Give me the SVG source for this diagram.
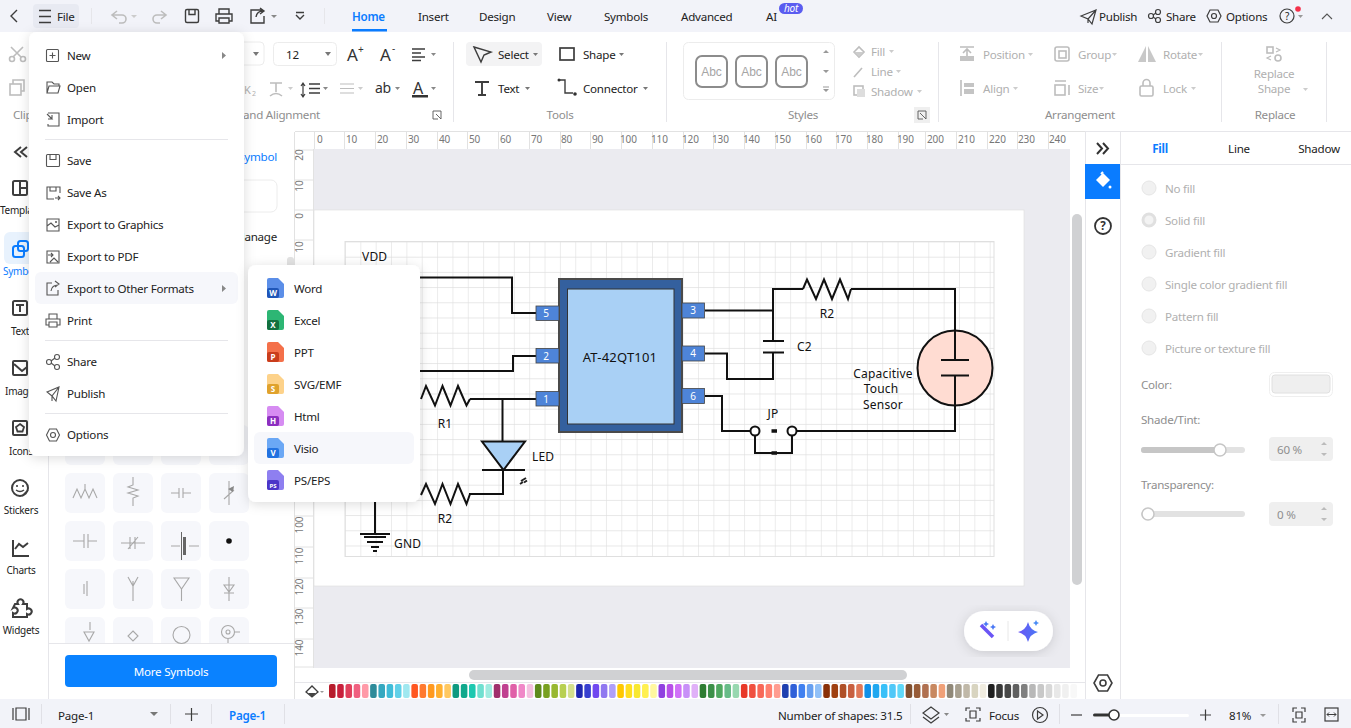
<svg xmlns="http://www.w3.org/2000/svg" width="1351" height="728" viewBox="0 0 1351 728">
<style>
text{font-family:"Noto Sans","Open Sans",sans-serif;font-size:11.6px;letter-spacing:-.25px;fill:#222;white-space:pre}
.d{fill:#b0b0b0}.m{fill:#8e8e8e}.b{fill:#0a7cff}.s{font-size:11px}.r{font-size:10px;fill:#777;letter-spacing:-.1px}.c{text-anchor:middle}
.ci{font-size:12px;fill:#111;letter-spacing:.2px}
.i{fill:none;stroke:#3d3d3d;stroke-width:1.4}.ig{fill:none;stroke:#bdbdbd;stroke-width:1.6}.im{fill:none;stroke:#555;stroke-width:1.1}
.sep{stroke:#e6e6ea;stroke-width:1}.tile{fill:#f6f7fb}.gl{fill:none;stroke:#a8a8a8;stroke-width:1.1}
.w{fill:none;stroke:#111;stroke-width:2}.pin{fill:#4e84d8;stroke:#444;stroke-width:.8}.pt{font-size:10px;fill:#fff;text-anchor:middle;letter-spacing:0}
.tri{fill:#8a8a8a}.abc{fill:#fff;stroke:#8c8c8c;stroke-width:2}.abt{font-family:"Liberation Sans",sans-serif;fill:#a5a5a5;font-size:12px;text-anchor:middle;letter-spacing:0}
.rad{fill:#f1f1f1;stroke:#e6e6e6}.ba{font-size:8px;font-weight:700;fill:#fff;text-anchor:middle;letter-spacing:0}
</style>
<defs>
<pattern id="grid" x="345" y="241.5" width="15.35" height="15.2" patternUnits="userSpaceOnUse"><path d="M0 0H15.35M0 0V15.2" fill="none" stroke="#dfdfdf" stroke-width="1.2"/></pattern>
<filter id="sh" x="-15%" y="-15%" width="130%" height="130%"><feDropShadow dx="0" dy="2" stdDeviation="6" flood-color="#000" flood-opacity=".14"/></filter>
<linearGradient id="pill" x1="0" x2="1"><stop offset="0" stop-color="#6a55f5"/><stop offset="1" stop-color="#4a78f5"/></linearGradient>
<path id="fold" d="M0 2a2 2 0 0 1 2-2H11L17 6V18a2 2 0 0 1-2 2H2a2 2 0 0 1-2-2Z"/>
</defs>

<rect width="1351" height="728" fill="#fff"/>
<rect id="canvas-bg" x="314" y="149" width="756" height="519" fill="#ebebf0"/>
<rect id="page" x="314" y="210" width="710" height="376" fill="#fff" stroke="#dcdcdc" stroke-width=".6"/>
<rect id="grid-area" x="345" y="241.5" width="649" height="315" fill="url(#grid)" stroke="#dfdfdf"/>

<g id="connectors">
<path class="w" d="M420 277.5H512V313H536"/>
<path class="w" d="M420 371H513V356H536"/>
<path class="w" d="M470 399H536"/>
<path class="w" d="M502.500 399V441"/>
<path class="w" d="M503 470V494H469"/>
<path class="w" d="M375 502V534"/>
<path class="w" d="M705 310.500H773"/>
<path class="w" d="M773 341V289H803"/>
<path class="w" d="M851 289H955V331"/>
<path class="w" d="M773 353V379H727V353.500H705"/>
<path class="w" d="M705 396H722V431H750"/>
<path class="w" d="M755 435V453H792V435"/>
<path class="w" d="M796 431H955V406"/>
</g>

<g id="node-chip">
<rect x="559" y="279" width="123" height="153" fill="#34609e" stroke="#4a4a4a" stroke-width="2"/>
<rect x="567.500" y="289" width="106.500" height="135" fill="#a9d0f5" stroke="#333" stroke-width="1"/>
<text class="ci c" x="620" y="362" style="font-size:13px">AT-42QT101</text>
</g>
<g id="node-pin-5"><rect class="pin" x="536" y="306" width="23" height="14.500"/><text class="pt" x="546" y="317">5</text></g>
<g id="node-pin-2"><rect class="pin" x="536" y="348.500" width="23" height="14.500"/><text class="pt" x="546" y="360">2</text></g>
<g id="node-pin-1"><rect class="pin" x="536" y="391.500" width="23" height="14.500"/><text class="pt" x="546" y="403">1</text></g>
<g id="node-pin-3"><rect class="pin" x="682" y="303" width="22.500" height="15"/><text class="pt" x="693" y="314">3</text></g>
<g id="node-pin-4"><rect class="pin" x="682" y="346" width="22.500" height="15"/><text class="pt" x="693" y="357">4</text></g>
<g id="node-pin-6"><rect class="pin" x="682" y="388.500" width="22.500" height="15"/><text class="pt" x="693" y="400">6</text></g>

<g id="node-vdd"><text class="ci" x="362" y="261">VDD</text></g>
<g id="node-r1"><path class="w" d="M421 399L426 386L435 405.500L442.500 386L450.500 405.500L458 386L466.500 405.500L470 399"/><text class="ci c" x="445" y="428">R1</text></g>
<g id="node-r2-left"><path class="w" d="M421 495L426 484L435 504L442.500 484L450.500 504L458 484L466.500 504L470 494"/><text class="ci c" x="445" y="523">R2</text></g>
<g id="node-led">
<path d="M482 441.500H525L503.500 470Z" fill="#a9d0f5" stroke="#111" stroke-width="2"/>
<path class="w" d="M482 470H525"/>
<path d="M521 481l5-3M520 484l3-2M524 482.500l3-2" stroke="#222" stroke-width="2"/>
<text class="ci" x="532" y="461">LED</text>
</g>
<g id="node-gnd">
<path stroke="#111" stroke-width="2" d="M360 534H390M364 537H386M367 542H383M371 547H379M373 551H377"/>
<text class="ci" x="394" y="548">GND</text>
</g>
<g id="node-r2-right"><path class="w" d="M803 289L807 279.500L816 299L824 279.500L832 299L840 279.500L848 299L851 289"/><text class="ci c" x="827" y="318">R2</text></g>
<g id="node-c2"><path class="w" d="M763 341H784M763 352.500H784"/><text class="ci" x="797" y="351">C2</text></g>
<g id="node-jp">
<circle cx="755" cy="431" r="4.500" fill="#fff" stroke="#111" stroke-width="2"/>
<circle cx="792" cy="431" r="4.500" fill="#fff" stroke="#111" stroke-width="2"/>
<path stroke="#111" stroke-width="3.500" d="M771.500 431H777M771.500 453H777"/>
<text class="ci c" x="773" y="418">JP</text>
</g>
<g id="node-sensor">
<circle cx="955" cy="368" r="37.500" fill="#ffdcd2" stroke="#111" stroke-width="2"/>
<path class="w" d="M955 331V360M941 360H969M941 375.500H969M955 375.500V406"/>
<text class="ci c" x="883" y="378">Capacitive</text>
<text class="ci c" x="881" y="393">Touch</text>
<text class="ci c" x="883" y="409">Sensor</text>
</g>

<g id="float-pill">
<rect x="964" y="611" width="89" height="40" rx="20" fill="#fff" filter="url(#sh)"/>
<path d="M1008 621V641" stroke="#e8e8e8"/>
<path d="M981 625L993 637" stroke="#6a55f5" stroke-width="3.500" fill="none"/><path d="M986 621l1 2 2 1-2 1-1 2-1-2-2-1 2-1ZM993 624l1 2 2 1-2 1-1 2-1-2-2-1 2-1Z" fill="#4a78f5"/>
<path d="M1028 622Q1030 630 1038 632Q1030 634 1028 642Q1026 634 1018 632Q1026 630 1028 622Z" fill="url(#pill)"/><path d="M1036 620l1 2 2 1-2 1-1 2-1-2-2-1 2-1Z" fill="#4a8cf5"/>
</g>

<g id="scrollbars">
<rect x="1072" y="214" width="10" height="371" rx="5" fill="#d0d1d3"/>
<rect x="469" y="670" width="438" height="10" rx="5" fill="#d0d1d3"/>
</g>
<path class="sep" d="M295 682.500H1085"/>

<g id="palette">
<path class="i" d="M306 692l6-6 6 6-6 5z" style="stroke-width:1.300"/><path d="M308 693h8l-4 4z" fill="#444"/><path d="M320 691h4l-2 2z" fill="#999"/>
<g transform="translate(329,0) scale(1.0108,1) translate(-329,0)">
<rect x="329" y="684" width="6.500" height="14" rx="2" fill="#b71c2c"/><rect x="337.100" y="684" width="6.500" height="14" rx="2" fill="#c8203c"/><rect x="345.300" y="684" width="6.500" height="14" rx="2" fill="#e0405c"/><rect x="353.400" y="684" width="6.500" height="14" rx="2" fill="#f06080"/><rect x="361.600" y="684" width="6.500" height="14" rx="2" fill="#ff9aa8"/>
<rect x="369.700" y="684" width="6.500" height="14" rx="2" fill="#2e8b9a"/><rect x="377.900" y="684" width="6.500" height="14" rx="2" fill="#35a8c0"/><rect x="386" y="684" width="6.500" height="14" rx="2" fill="#40bcd8"/><rect x="394.200" y="684" width="6.500" height="14" rx="2" fill="#60d0e8"/><rect x="402.300" y="684" width="6.500" height="14" rx="2" fill="#a0e8f0"/>
<rect x="410.500" y="684" width="6.500" height="14" rx="2" fill="#ff5722"/><rect x="418.600" y="684" width="6.500" height="14" rx="2" fill="#ff7a30"/><rect x="426.800" y="684" width="6.500" height="14" rx="2" fill="#ff9a20"/><rect x="434.900" y="684" width="6.500" height="14" rx="2" fill="#ffb030"/><rect x="443.100" y="684" width="6.500" height="14" rx="2" fill="#ffc860"/>
<rect x="451.200" y="684" width="6.500" height="14" rx="2" fill="#0f9a80"/><rect x="459.400" y="684" width="6.500" height="14" rx="2" fill="#10a88c"/><rect x="467.500" y="684" width="6.500" height="14" rx="2" fill="#1dc8b0"/><rect x="475.700" y="684" width="6.500" height="14" rx="2" fill="#70e0d0"/><rect x="483.800" y="684" width="6.500" height="14" rx="2" fill="#a0ece0"/>
<rect x="492" y="684" width="6.500" height="14" rx="2" fill="#a0306c"/><rect x="500.100" y="684" width="6.500" height="14" rx="2" fill="#c04090"/><rect x="508.300" y="684" width="6.500" height="14" rx="2" fill="#e060a8"/><rect x="516.400" y="684" width="6.500" height="14" rx="2" fill="#f088c8"/><rect x="524.600" y="684" width="6.500" height="14" rx="2" fill="#f4c0e0"/>
<rect x="532.700" y="684" width="6.500" height="14" rx="2" fill="#5e8a1c"/><rect x="540.900" y="684" width="6.500" height="14" rx="2" fill="#78a020"/><rect x="549" y="684" width="6.500" height="14" rx="2" fill="#98b830"/><rect x="557.200" y="684" width="6.500" height="14" rx="2" fill="#b8d050"/><rect x="565.300" y="684" width="6.500" height="14" rx="2" fill="#d4e08c"/>
<rect x="573.500" y="684" width="6.500" height="14" rx="2" fill="#2028b0"/><rect x="581.600" y="684" width="6.500" height="14" rx="2" fill="#3840d0"/><rect x="589.800" y="684" width="6.500" height="14" rx="2" fill="#7048f0"/><rect x="597.900" y="684" width="6.500" height="14" rx="2" fill="#9078f0"/><rect x="606.100" y="684" width="6.500" height="14" rx="2" fill="#b0a0f8"/>
<rect x="614.200" y="684" width="6.500" height="14" rx="2" fill="#ffc800"/><rect x="622.400" y="684" width="6.500" height="14" rx="2" fill="#ffdf20"/><rect x="630.500" y="684" width="6.500" height="14" rx="2" fill="#f8e830"/><rect x="638.700" y="684" width="6.500" height="14" rx="2" fill="#fff050"/><rect x="646.800" y="684" width="6.500" height="14" rx="2" fill="#fff8a0"/>
<rect x="655" y="684" width="6.500" height="14" rx="2" fill="#9040e0"/><rect x="663.100" y="684" width="6.500" height="14" rx="2" fill="#b850e8"/><rect x="671.300" y="684" width="6.500" height="14" rx="2" fill="#d070f8"/><rect x="679.400" y="684" width="6.500" height="14" rx="2" fill="#c890f8"/><rect x="687.600" y="684" width="6.500" height="14" rx="2" fill="#e0b0f8"/>
<rect x="695.700" y="684" width="6.500" height="14" rx="2" fill="#2e7d32"/><rect x="703.900" y="684" width="6.500" height="14" rx="2" fill="#3c9048"/><rect x="712" y="684" width="6.500" height="14" rx="2" fill="#50a860"/><rect x="720.200" y="684" width="6.500" height="14" rx="2" fill="#68bc88"/><rect x="728.300" y="684" width="6.500" height="14" rx="2" fill="#98d8b0"/>
<rect x="736.500" y="684" width="6.500" height="14" rx="2" fill="#e83828"/><rect x="744.600" y="684" width="6.500" height="14" rx="2" fill="#f05040"/><rect x="752.800" y="684" width="6.500" height="14" rx="2" fill="#f86858"/><rect x="760.900" y="684" width="6.500" height="14" rx="2" fill="#ff8070"/><rect x="769.100" y="684" width="6.500" height="14" rx="2" fill="#ff9c90"/>
<rect x="777.200" y="684" width="6.500" height="14" rx="2" fill="#2040b0"/><rect x="785.400" y="684" width="6.500" height="14" rx="2" fill="#3060d8"/><rect x="793.500" y="684" width="6.500" height="14" rx="2" fill="#4080f0"/><rect x="801.700" y="684" width="6.500" height="14" rx="2" fill="#68a0f0"/><rect x="809.800" y="684" width="6.500" height="14" rx="2" fill="#90c0f8"/>
<rect x="818" y="684" width="6.500" height="14" rx="2" fill="#8a3008"/><rect x="826.100" y="684" width="6.500" height="14" rx="2" fill="#a04010"/><rect x="834.300" y="684" width="6.500" height="14" rx="2" fill="#b05028"/><rect x="842.400" y="684" width="6.500" height="14" rx="2" fill="#c86040"/><rect x="850.600" y="684" width="6.500" height="14" rx="2" fill="#e07858"/>
<rect x="858.700" y="684" width="6.500" height="14" rx="2" fill="#1090e8"/><rect x="866.900" y="684" width="6.500" height="14" rx="2" fill="#20a8f0"/><rect x="875" y="684" width="6.500" height="14" rx="2" fill="#38c0f8"/><rect x="883.200" y="684" width="6.500" height="14" rx="2" fill="#50c8f8"/><rect x="891.300" y="684" width="6.500" height="14" rx="2" fill="#60d8f8"/>
<rect x="899.500" y="684" width="6.500" height="14" rx="2" fill="#805030"/><rect x="907.600" y="684" width="6.500" height="14" rx="2" fill="#985c38"/><rect x="915.800" y="684" width="6.500" height="14" rx="2" fill="#b07050"/><rect x="923.900" y="684" width="6.500" height="14" rx="2" fill="#c88860"/><rect x="932.100" y="684" width="6.500" height="14" rx="2" fill="#f0a078"/>
<rect x="940.200" y="684" width="6.500" height="14" rx="2" fill="#908878"/><rect x="948.400" y="684" width="6.500" height="14" rx="2" fill="#a8a090"/><rect x="956.500" y="684" width="6.500" height="14" rx="2" fill="#c0b8a8"/><rect x="964.700" y="684" width="6.500" height="14" rx="2" fill="#d8d4c0"/><rect x="972.800" y="684" width="6.500" height="14" rx="2" fill="#f0ece0"/>
<rect x="981" y="684" width="6.500" height="14" rx="2" fill="#202020"/><rect x="989.100" y="684" width="6.500" height="14" rx="2" fill="#383838"/><rect x="997.300" y="684" width="6.500" height="14" rx="2" fill="#484848"/><rect x="1005.400" y="684" width="6.500" height="14" rx="2" fill="#606060"/><rect x="1013.600" y="684" width="6.500" height="14" rx="2" fill="#808080"/><rect x="1021.700" y="684" width="6.500" height="14" rx="2" fill="#b8b8b8"/><rect x="1029.900" y="684" width="6.500" height="14" rx="2" fill="#c8c8c8"/><rect x="1038" y="684" width="6.500" height="14" rx="2" fill="#d8d8d8"/><rect x="1046.200" y="684" width="6.500" height="14" rx="2" fill="#e8e8e8"/><rect x="1054.300" y="684" width="6.500" height="14" rx="2" fill="#f0f0f0"/><rect x="1062.500" y="684" width="6.500" height="14" rx="2" fill="#f8f8f8"/>
</g>
</g>

<g id="ruler-top">
<rect x="295" y="132" width="775" height="17" fill="#fff"/>
<path stroke="#e2e2e2" d="M295 131.500H1085M314.500 132V149M344.500 132V149M375.500 132V149M406.500 132V149M437.500 132V149M467.500 132V149M498.500 132V149M529.500 132V149M560.500 132V149M590.500 132V149M621.500 132V149M652.500 132V149M683.500 132V149M713.500 132V149M744.500 132V149M775.500 132V149M806.500 132V149M836.500 132V149M867.500 132V149M898.500 132V149M925.500 132V149M956.500 132V149M987.500 132V149M1017.500 132V149M1048.500 132V149"/>
<text class="r" x="317" y="143">0</text><text class="r" x="346" y="143">10</text><text class="r" x="377" y="143">20</text><text class="r" x="408" y="143">30</text><text class="r" x="439" y="143">40</text><text class="r" x="469" y="143">50</text><text class="r" x="500" y="143">60</text><text class="r" x="531" y="143">70</text><text class="r" x="561" y="143">80</text><text class="r" x="592" y="143">90</text><text class="r" x="620" y="143">100</text><text class="r" x="651" y="143">110</text><text class="r" x="682" y="143">120</text><text class="r" x="712" y="143">130</text><text class="r" x="743" y="143">140</text><text class="r" x="774" y="143">150</text><text class="r" x="805" y="143">160</text><text class="r" x="835" y="143">170</text><text class="r" x="866" y="143">180</text><text class="r" x="897" y="143">190</text><text class="r" x="927" y="143">200</text><text class="r" x="958" y="143">210</text><text class="r" x="989" y="143">220</text><text class="r" x="1018" y="143">230</text><text class="r" x="1049" y="143">240</text>
</g>
<g id="ruler-left">
<rect x="295" y="149" width="19" height="519" fill="#fff"/>
<path stroke="#e2e2e2" d="M294.500 132V699M313.500 149V668M295 150H313M295 180H313M295 210H313M295 240H313M295 516H313M295 547H313M295 578H313M295 608H313M295 639H313M295 667H313"/>
<text class="r c" transform="translate(303,155) rotate(-90)">20</text><text class="r c" transform="translate(303,186) rotate(-90)">10</text><text class="r c" transform="translate(303,216) rotate(-90)">0</text><text class="r c" transform="translate(303,247) rotate(-90)">10</text><text class="r c" transform="translate(303,525) rotate(-90)">100</text><text class="r c" transform="translate(303,556) rotate(-90)">110</text><text class="r c" transform="translate(303,587) rotate(-90)">120</text><text class="r c" transform="translate(303,617) rotate(-90)">130</text><text class="r c" transform="translate(303,648) rotate(-90)">140</text>
</g>

<g id="left-panel">
<path class="sep" d="M48.500 132V699M49 643.500H294"/>
<text x="277" y="161" class="b" text-anchor="end">Symbol</text>
<rect x="200" y="180" width="77" height="32" rx="6" fill="#fff" stroke="#ececec"/>
<text x="277" y="241" text-anchor="end" fill="#333">Manage</text>
<rect x="287" y="257" width="7" height="40" rx="3" fill="#e2e2e2"/>
<rect class="tile" x="65" y="425" width="40" height="40" rx="6"/><rect class="tile" x="113" y="425" width="40" height="40" rx="6"/><rect class="tile" x="161" y="425" width="40" height="40" rx="6"/><rect class="tile" x="209" y="425" width="40" height="40" rx="6"/>
<rect class="tile" x="65" y="473" width="40" height="40" rx="6"/><rect class="tile" x="113" y="473" width="40" height="40" rx="6"/><rect class="tile" x="161" y="473" width="40" height="40" rx="6"/><rect class="tile" x="209" y="473" width="40" height="40" rx="6"/>
<rect class="tile" x="65" y="521" width="40" height="40" rx="6"/><rect class="tile" x="113" y="521" width="40" height="40" rx="6"/><rect class="tile" x="161" y="521" width="40" height="40" rx="6"/><rect class="tile" x="209" y="521" width="40" height="40" rx="6"/>
<rect class="tile" x="65" y="569" width="40" height="40" rx="6"/><rect class="tile" x="113" y="569" width="40" height="40" rx="6"/><rect class="tile" x="161" y="569" width="40" height="40" rx="6"/><rect class="tile" x="209" y="569" width="40" height="40" rx="6"/>
<path class="tile" d="M65 643V623a6 6 0 0 1 6-6H99a6 6 0 0 1 6 6V643ZM113 643V623a6 6 0 0 1 6-6H147a6 6 0 0 1 6 6V643ZM161 643V623a6 6 0 0 1 6-6H195a6 6 0 0 1 6 6V643ZM209 643V623a6 6 0 0 1 6-6H243a6 6 0 0 1 6 6V643Z"/>
<path class="gl" d="M73 498l4-9 4 9 4-9 4 9 4-9 4 9M85 484v6"/>
<path class="gl" d="M133 481v8l-5 2 10 3-10 3 10 3-5 2v8" transform="translate(0,-4)"/>
<path class="gl" d="M171 493h8M179 488v10M183 488v10M183 493h8"/>
<path class="gl" d="M229 481v24M224 499l10-9"/><path d="M228 489l6-3-1 6z" fill="#888"/>
<path class="gl" d="M73 541h11M84 534v14M88 534v14M88 541h9"/>
<path class="gl" d="M121 543h24M130 537v12M135 537v12M128 549l10-12"/>
<path class="gl" d="M171 546h9M189 546h10"/><path d="M181 532h1v28h-1zM183 537h3v18h-3z" fill="#666"/>
<circle cx="229" cy="541" r="2.800" fill="#111"/>
<path class="gl" d="M84 584v10M87 581v15"/>
<path class="gl" d="M133 581v20M128 577l5 9 5-9"/>
<path class="gl" d="M174 578h15l-7.500 11zM181.500 589v12"/>
<path class="gl" d="M229 577v24M224 585h10l-5 7zM224 593h10"/>
<path class="gl" d="M90 622v8M84 632h10l-5 9z"/>
<path class="gl" d="M133 631l5 5-5 5-5-5z"/>
<circle class="gl" cx="181.500" cy="635" r="8.500"/>
<circle class="gl" cx="228" cy="632" r="6.500"/><circle class="gl" cx="228" cy="632" r="2"/><path class="gl" d="M235 632h5M228 639v4"/>
<rect x="65" y="655" width="212" height="32" rx="4" fill="#0a82ff"/>
<text x="171" y="676" class="c" style="fill:#fff">More Symbols</text>
</g>

<g id="left-nav">
<path class="i" d="M21 147l-6 5 6 5M27 147l-6 5 6 5" style="stroke-width:2"/>
<rect class="i" x="13" y="181" width="14" height="14" rx="1.500" style="stroke-width:2"/><path class="i" d="M20 181v14M20 188h7" style="stroke-width:2"/>
<text x="0" y="214" style="font-size:10px">Templates</text>
<rect x="4" y="232" width="32" height="32" rx="6" fill="#e8f2fd"/>
<rect x="13" y="246" width="11" height="11" rx="2.500" fill="none" stroke="#0a7cff" stroke-width="2"/><rect x="18" y="241" width="10" height="10" rx="2.500" fill="none" stroke="#0a7cff" stroke-width="2"/>
<text x="3" y="275" class="b" style="font-size:10px">Symbols</text>
<rect class="i" x="13" y="301" width="14" height="14" rx="1.500" style="stroke-width:2"/><path class="i" d="M16 305h8M20 305v7" style="stroke-width:2"/>
<text x="20" y="335" class="c" style="font-size:10px">Text</text>
<rect class="i" x="13" y="361" width="14" height="14" rx="1" style="stroke-width:2"/><path class="i" d="M14 364l8 7 5-4" style="stroke-width:2"/>
<text x="5" y="395" style="font-size:10px">Images</text>
<rect class="i" x="13" y="421" width="14" height="14" rx="1" style="stroke-width:2"/><path class="i" d="M20 424l4 3-1.500 4.500h-5L16 427z" style="stroke-width:1.800"/>
<text x="9" y="455" style="font-size:10px">Icons</text>
<circle class="i" cx="20" cy="488" r="8" style="stroke-width:2"/><path class="i" d="M22 496l6-6M16 490q4 3 8 0"/><circle cx="17" cy="486" r="1" fill="#333"/><circle cx="23" cy="486" r="1" fill="#333"/>
<text x="21" y="514" class="c" style="font-size:10px">Stickers</text>
<path class="i" d="M13 540v16h16" style="stroke-width:2"/><path class="i" d="M15 549l4-5 4 3 5-4" style="stroke-width:2"/>
<text x="21" y="574" class="c" style="font-size:10px">Charts</text>
<path class="i" d="M15 604h3a3 3 0 1 1 5 0h4v5a3 3 0 1 1 0 5v3H13v-4a3 3 0 1 0 0-5z" style="stroke-width:2"/>
<text x="21" y="634" class="c" style="font-size:10px">Widgets</text>
</g>

<g id="top-bar">
<rect width="1351" height="32" fill="#f2f3f9"/>
<path class="i" d="M17 10l-6 6 6 6"/>
<rect x="33" y="4" width="46" height="24" rx="4" fill="#e8eaf2"/>
<path class="i" d="M39 10.500H51M39 16.500H51M39 22.500H51"/>
<text x="57" y="21">File</text>
<path class="sep" d="M91.500 8V24M324.500 8V24" stroke="#d8d8dc"/>
<path class="ig" d="M117 11l-5 4 5 4M112 15h10a4 4 0 0 1 0 8h-3"/><path d="M131 15l3 3 3-3z" fill="#ccc"/>
<path class="ig" d="M161 11l5 4-5 4M166 15h-9a4 4 0 0 0 0 8h3"/>
<rect class="i" x="185.500" y="9.500" width="13" height="13" rx="1.500"/><path class="i" d="M189 9.500v5h6v-5"/>
<path class="i" d="M219 14v-5h10v5M219 21h-3v-7h16v7h-3M219 18h10v5h-10z"/>
<path class="i" d="M263 10h-12v13h13v-7M256 17q1-6 7-6M260 8l4 3-4 3"/><path d="M271 15l3 3 3-3z" fill="#888"/>
<path class="i" d="M296 12.500h8M296 15l4 4 4-4"/>
<text x="352" y="21" class="b" style="font-weight:600">Home</text>
<rect x="352" y="29" width="35" height="2.500" fill="#0a7cff"/>
<text x="418" y="21">Insert</text><text x="479" y="21">Design</text><text x="547" y="21">View</text><text x="604" y="21">Symbols</text><text x="681" y="21">Advanced</text><text x="766" y="21">AI</text>
<rect x="779" y="3" width="24" height="11" rx="5.500" fill="#5a5cf0"/>
<text x="791" y="12" class="c" style="fill:#fff;font-size:10px;font-style:italic">hot</text>
<path class="i" d="M1081 16l15-6-4 14-4-5zM1096 10l-8 9v4" style="stroke-width:1.200"/>
<text x="1099" y="21">Publish</text>
<circle class="i" cx="1151" cy="16" r="2.500" style="stroke-width:1.200"/><circle class="i" cx="1158" cy="12" r="2.500" style="stroke-width:1.200"/><circle class="i" cx="1158" cy="20" r="2.500" style="stroke-width:1.200"/><path class="i" d="M1153 15l3-2M1153 17l3 2" style="stroke-width:1.200"/>
<text x="1166" y="21">Share</text>
<circle class="i" cx="1214" cy="16" r="2.500" style="stroke-width:1.200"/><path class="i" d="M1210 10h8l3 6-3 6h-8l-3-6z" style="stroke-width:1.200"/>
<text x="1226" y="21">Options</text>
<circle class="i" cx="1287" cy="16" r="7" style="stroke-width:1.200"/><text x="1287" y="20" class="c" style="font-size:10px">?</text>
<circle cx="1298" cy="9" r="2.800" fill="#f4304a"/><path d="M1298 15l2.500 3 2.500-3z" fill="#999"/>
<path class="im" d="M1322 19l5-5 5 5"/>
</g>

<g id="ribbon">
<path class="sep" d="M453.500 42V122M666.500 42V122M938.500 42V122M1221.500 42V122M1326.500 42V122"/>
<path class="ig" d="M11 47l10 10M23 47l-10 10"/><circle class="ig" cx="12" cy="59" r="2.500"/><circle class="ig" cx="23" cy="59" r="2.500"/>
<rect class="ig" x="10" y="84" width="11" height="11"/><path class="ig" d="M13 84v-4h11v11h-3"/>
<text x="13" y="119" class="m">Clipboard</text>
<rect x="200" y="42" width="64" height="23" rx="4" fill="#fff" stroke="#ececec"/><path d="M253 52l3 4 3-4z" fill="#777"/>
<rect x="273.500" y="42.500" width="63" height="23" rx="4" fill="#fff" stroke="#ececec"/><text x="286" y="59">12</text><path d="M325 52l3 4 3-4z" fill="#777"/>
<text x="347" y="61" style="font-size:17px;fill:#333">A</text><text x="358" y="53" style="font-size:10px;fill:#333">+</text>
<text x="380" y="61" style="font-size:17px;fill:#333">A</text><text x="392" y="52" style="font-size:10px;fill:#333">-</text>
<path class="i" d="M412 49h13M412 53h9M412 57h13M412 60.500h9"/><path d="M431 53l2.500 3 2.500-3z" fill="#888"/>
<text x="244" y="94" class="d" style="font-size:11px">K</text><text x="252" y="96" class="d" style="font-size:7px">2</text>
<path class="ig" d="M270 83h12M276 83v9M270 96q6-5 12 0"/><path d="M288 87l2.500 3 2.500-3z" fill="#ccc"/>
<path class="i" d="M303 84v12M301 86l2-3 2 3M301 94l2 3 2-3" style="stroke-width:1.200"/><path class="i" d="M309 84h11M309 88.500h11M309 93h11" style="stroke-width:1.500"/><path d="M323 87l2.500 3 2.500-3z" fill="#888"/>
<path class="ig" d="M340 84h14M340 88.500h14M340 93h14" style="stroke-width:1.200"/><path d="M358 87l2.500 3 2.500-3z" fill="#ccc"/>
<text x="375" y="93" style="font-size:14px;fill:#333">ab</text><path d="M395 87l2.500 3 2.500-3z" fill="#888"/>
<text x="413" y="94" style="font-size:16px;fill:#333">A</text><rect x="412" y="95" width="16" height="2.500" fill="#333"/><path d="M431 87l2.500 3 2.500-3z" fill="#888"/>
<text x="243" y="119" class="m">and Alignment</text>
<path class="im" d="M433 111h8v8M433 111v8h5M436 114l5 5" style="stroke-width:.9"/>

<rect x="466" y="42" width="76" height="24" rx="4" fill="#f3f3f4"/>
<path class="i" d="M474 47l17 5-7 3-3 7z"/>
<text x="498" y="59">Select</text><path d="M533 53l2.500 3 2.500-3z" fill="#777"/>
<rect class="i" x="560" y="48" width="14" height="12" style="stroke-width:1.700"/>
<text x="583" y="59">Shape</text><path d="M619 53l2.500 3 2.500-3z" fill="#777"/>
<path class="i" d="M475 82h14M482 82v13M478 95h8" style="stroke-width:1.900"/>
<text x="498" y="93">Text</text><path d="M525 87l2.500 3 2.500-3z" fill="#777"/>
<path class="i" d="M560 80h5v13h8"/><circle cx="559" cy="80" r="1.500" fill="#333"/><circle cx="575" cy="94" r="1.800" fill="#333"/>
<text x="583" y="93">Connector</text><path d="M643 87l2.500 3 2.500-3z" fill="#777"/>
<text x="560" y="119" class="m c">Tools</text>

<rect x="683.500" y="42.500" width="151" height="57" rx="5" fill="#fff" stroke="#ececec"/>
<rect class="abc" x="696" y="56" width="31" height="31" rx="6"/><text class="abt" x="711.500" y="76">Abc</text>
<rect class="abc" x="736" y="56" width="31" height="31" rx="6"/><text class="abt" x="751.500" y="76">Abc</text>
<rect class="abc" x="776" y="56" width="31" height="31" rx="6"/><text class="abt" x="791.500" y="76">Abc</text>
<path d="M823 53l3-3 3 3zM823 70l3 3 3-3zM823 89l3 3 3-3zM823 86.500h6v1h-6z" fill="#999"/>
<text x="803" y="119" class="m c">Styles</text>
<path class="ig" d="M854 52l5-5 5 5-5 5z"/><path d="M854 52l5 5 5-5z" fill="#ccc"/>
<text x="871" y="56" class="d">Fill</text><path d="M889 50l2.500 3 2.500-3z" fill="#ccc"/>
<path class="ig" d="M854 77l8-9"/><text x="871" y="76" class="d">Line</text><path d="M896 70l2.500 3 2.500-3z" fill="#ccc"/>
<rect class="ig" x="854" y="86" width="9" height="9"/><rect x="857" y="89" width="8" height="8" fill="#ddd"/><text x="871" y="96" class="d">Shadow</text><path d="M917 90l2.500 3 2.500-3z" fill="#ccc"/>
<rect x="914" y="107" width="16" height="16" fill="#efefef"/><path class="im" d="M918 111h8v8M918 111v8h5M920 113l6 6" style="stroke-width:.9"/>

<path class="ig" d="M960 47h14M967 60v-10M963 53l4-4 4 4"/><rect x="960" y="56" width="14" height="5" fill="#c4c4c4"/>
<text x="983" y="59" class="d">Position</text><path d="M1028 53l2.500 3 2.500-3z" fill="#ccc"/>
<path class="ig" d="M961 80v16"/><rect x="964" y="83" width="10" height="4" fill="#c4c4c4"/><rect x="964" y="89" width="10" height="5" fill="#c4c4c4"/>
<text x="983" y="93" class="d">Align</text><path d="M1013 87l2.500 3 2.500-3z" fill="#ccc"/>
<rect class="ig" x="1055" y="47" width="14" height="14" rx="2"/><rect class="ig" x="1059" y="51" width="7" height="7"/>
<text x="1078" y="59" class="d">Group</text><path d="M1112 53l2.500 3 2.500-3z" fill="#ccc"/>
<rect class="ig" x="1055" y="85" width="10" height="10"/><path class="ig" d="M1055 81h11M1069 85v10"/>
<text x="1078" y="93" class="d">Size</text><path d="M1099 87l2.500 3 2.500-3z" fill="#ccc"/>
<path d="M1146 46v16h-8zM1148 46v16h8z" fill="#c8c8c8"/>
<text x="1163" y="59" class="d">Rotate</text><path d="M1198 53l2.500 3 2.500-3z" fill="#ccc"/>
<rect class="ig" x="1140" y="86" width="13" height="10" rx="1.500"/><path class="ig" d="M1143 86v-3a3.500 3.500 0 0 1 7 0v3"/>
<text x="1163" y="93" class="d">Lock</text><path d="M1191 87l2.500 3 2.500-3z" fill="#ccc"/>
<text x="1080" y="119" class="m c">Arrangement</text>
<rect class="ig" x="1267" y="47" width="6" height="6"/><circle class="ig" cx="1278" cy="58" r="3"/><path class="ig" d="M1276 48l4 2-4 2M1271 56l-4 2 4 2" style="stroke-width:1.200"/>
<text x="1274" y="78" class="d c">Replace</text><text x="1274" y="93" class="d c">Shape</text><path d="M1303 88l2.500 3 2.500-3z" fill="#ccc"/>
<text x="1275" y="119" class="m c">Replace</text>
</g>

<g id="right-panel">
<path class="sep" d="M1085.500 132V699M1120.500 132V699M1085 131.500H1351M1120 164.500H1351"/>
<path d="M1097 143l5 5.500-5 5.500M1103 143l5 5.500-5 5.500" fill="none" stroke="#333" stroke-width="2"/>
<text x="1160" y="153" class="b c" style="font-weight:700">Fill</text><text x="1239" y="153" class="c">Line</text><text x="1319" y="153" class="c">Shadow</text>
<rect x="1085" y="164" width="35" height="35" fill="#0a7cff"/>
<path d="M1096 180l7-7 7 7-7 7z" fill="#fff"/><path d="M1103 172l-2 2" stroke="#fff" stroke-width="2"/><circle cx="1110" cy="187" r="1.500" fill="#fff"/>
<circle cx="1103" cy="226" r="8" fill="none" stroke="#333" stroke-width="1.800"/><text x="1103" y="230" class="c" style="font-weight:700;fill:#333">?</text>
<path class="i" d="M1098.500 675h9l4.500 8-4.500 8h-9l-4.500-8z" style="stroke-width:1.600"/><circle class="i" cx="1103" cy="683" r="3" style="stroke-width:1.600"/>
<circle class="rad" cx="1149" cy="188" r="7"/><text class="d" x="1165" y="193">No fill</text>
<circle cx="1149" cy="220" r="6" fill="#f3f3f3" stroke="#e0e0e0" stroke-width="3"/><text class="d" x="1165" y="225">Solid fill</text>
<circle class="rad" cx="1149" cy="252" r="7"/><text class="d" x="1165" y="257">Gradient fill</text>
<circle class="rad" cx="1149" cy="284" r="7"/><text class="d" x="1165" y="289">Single color gradient fill</text>
<circle class="rad" cx="1149" cy="316" r="7"/><text class="d" x="1165" y="321">Pattern fill</text>
<circle class="rad" cx="1149" cy="348" r="7"/><text class="d" x="1165" y="353">Picture or texture fill</text>
<text class="m" x="1141" y="389">Color:</text>
<rect x="1269.500" y="372.500" width="63" height="24" rx="5" fill="#fff" stroke="#efefef"/><rect x="1272" y="375" width="58" height="18" rx="3" fill="#efefef" stroke="#e0e0e0"/>
<text class="m" x="1141" y="424">Shade/Tint:</text>
<rect x="1141" y="447" width="104" height="6" rx="3" fill="#e2e2e2"/><rect x="1141" y="447" width="79" height="6" rx="3" fill="#c6c6c6"/><circle cx="1220" cy="450" r="6" fill="#fff" stroke="#c6c6c6" stroke-width="1.500"/>
<rect x="1269" y="437" width="64" height="24" rx="4" fill="#efefef"/><text class="m" x="1277" y="454">60 %</text><path d="M1321 445l3-3 3 3zM1321 453l3 3 3-3z" fill="#bbb"/>
<text class="m" x="1141" y="489">Transparency:</text>
<rect x="1141" y="511" width="104" height="6" rx="3" fill="#e2e2e2"/><circle cx="1148" cy="514" r="6" fill="#fff" stroke="#c6c6c6" stroke-width="1.500"/>
<rect x="1269" y="502" width="64" height="24" rx="4" fill="#efefef"/><text class="m" x="1277" y="519">0 %</text><path d="M1321 510l3-3 3 3zM1321 518l3 3 3-3z" fill="#bbb"/>
</g>

<g id="status-bar">
<rect y="699" width="1351" height="29" fill="#f2f3f9"/>
<path stroke="#e0e0e6" d="M41.500 704V724M170.500 704V724M211.500 704V724M284.500 704V724M910.500 704V724M1059.500 704V724M1278.500 704V724"/>
<path class="i" d="M13 708v12M16 708h10v12h-10zM29 708v12" style="stroke-width:1.200"/>
<text x="58" y="720">Page-1</text><path d="M150 712l4 4 4-4z" fill="#777"/>
<path class="i" d="M185 714h13M191.500 708v13" style="stroke-width:1.200"/>
<text x="229" y="720" class="b" style="font-weight:600">Page-1</text>
<text x="778" y="720">Number of shapes: 31.5</text>
<path class="i" d="M923 713l8-6 8 6-8 6zM923 717l8 6 8-6" style="stroke-width:1.200"/><path d="M944 713l2.500 3 2.500-3z" fill="#888"/>
<path class="i" d="M966 711v-3h4M976 708h4v3M966 718v3h4M976 721h4v-3M970 711h6v7h-6z" style="stroke-width:1.200"/>
<text x="989" y="720">Focus</text>
<circle class="i" cx="1040" cy="715" r="7.500" style="stroke-width:1.200"/><path class="i" d="M1037.500 711l5.500 4-5.500 4z" style="stroke-width:1.200"/>
<path class="i" d="M1071 715h11" style="stroke-width:1.200"/>
<rect x="1093" y="714" width="96" height="3" rx="1.500" fill="#fff"/><rect x="1093" y="713.500" width="21" height="3" rx="1.500" fill="#333"/><circle cx="1114" cy="715" r="5" fill="#fff" stroke="#333" stroke-width="1.600"/>
<path class="i" d="M1200 715h11M1205.500 709.500v11" style="stroke-width:1.200"/>
<text x="1229" y="720">81%</text><path d="M1260 714l3 3 3-3z" fill="#999"/>
<path class="i" d="M1293 712v-4h4M1301 708h4v4M1293 718v4h4M1301 722h4v-4M1296 712h6v6h-6z" style="stroke-width:1.200"/>
<rect class="i" x="1325" y="708" width="13" height="13" style="stroke-width:1.200"/><path class="i" d="M1327 714.500h9M1329 712.500l-2 2 2 2M1334 712.500l2 2-2 2" style="stroke-width:1"/>
</g>

<g id="menu-file">
<rect x="29" y="32" width="215" height="424" rx="8" fill="#fff" filter="url(#sh)"/>
<rect x="35" y="272" width="203" height="32" rx="6" fill="#f6f7fb"/>
<path class="sep" d="M45 139.500H228M45 340.500H228M45 413.500H228"/>
<path d="M222 52l4 3.500-4 3.500zM222 285l4 3.500-4 3.500z" fill="#888"/>
<rect class="im" x="46.500" y="49.500" width="12" height="12" rx="1"/><path class="im" d="M49.500 55.500h6M52.500 52.500v6"/>
<text x="67" y="60">New</text>
<path class="im" d="M47 93v-11h5l2 2h5v2M47 93l2-7h11l-2 7z"/>
<text x="67" y="92">Open</text>
<path class="im" d="M48 113h11v13h-11v-2M47 114l5 5h-4M52 115v4"/>
<text x="67" y="124">Import</text>
<rect class="im" x="46.500" y="154.500" width="13" height="12" rx="1"/><path class="im" d="M50 154.500v5h6v-5"/>
<text x="67" y="165">Save</text>
<path class="im" d="M60 193v-6h-13v12h7M50 187v4h6v-4M55 198h5M58 196l2 2-2 2"/>
<text x="67" y="197">Save As</text>
<path class="im" d="M47 219h12v12h-12zM47 226l4-3 4 4 4-2"/><circle cx="56" cy="222" r="1" fill="#555"/>
<text x="67" y="229">Export to Graphics</text>
<path class="im" d="M47 251h12v12h-12zM48 255h5M51 253l2 2-2 2M50 262l4-4 4 4"/>
<text x="67" y="261">Export to PDF</text>
<path class="im" d="M58 290v5h-11v-12h5M51 291q1-6 7-6M55 281l4 3-4 3"/>
<text x="67" y="293">Export to Other Formats</text>
<path class="im" d="M49 319v-5h8v5M49 325h-3v-6h14v6h-3M49 322h8v5h-8z"/>
<text x="67" y="325">Print</text>
<circle class="im" cx="49" cy="362" r="2.500"/><circle class="im" cx="57" cy="357" r="2.500"/><circle class="im" cx="57" cy="367" r="2.500"/><path class="im" d="M51 361l4-3M51 363l4 3"/>
<text x="67" y="366">Share</text>
<path class="im" d="M47 392l12-5-3 14-4-5zM59 387l-7 9v5"/>
<text x="67" y="398">Publish</text>
<circle class="im" cx="53" cy="435" r="2.500"/><path class="im" d="M49.500 429h7l3 6-3 6h-7l-3-6z"/>
<text x="67" y="439">Options</text>
</g>

<g id="menu-export">
<rect x="248" y="265" width="172" height="237" rx="8" fill="#fff" filter="url(#sh)"/>
<rect x="254" y="432" width="160" height="32" rx="6" fill="#f6f7fb"/>
<g transform="translate(267,278)"><use href="#fold" fill="#5b8ee8"/><rect y="10" width="12" height="10" rx="2" fill="#1f56b8"/><text class="ba" x="6" y="18">W</text></g><text x="294" y="293">Word</text>
<g transform="translate(267,310)"><use href="#fold" fill="#2db674"/><rect y="10" width="12" height="10" rx="2" fill="#12703f"/><text class="ba" x="6" y="18">X</text></g><text x="294" y="325">Excel</text>
<g transform="translate(267,342)"><use href="#fold" fill="#f4704a"/><rect y="10" width="12" height="10" rx="2" fill="#c93d1c"/><text class="ba" x="6" y="18">P</text></g><text x="294" y="357">PPT</text>
<g transform="translate(267,374)"><use href="#fold" fill="#fdd28a"/><rect y="10" width="12" height="10" rx="2" fill="#e0a22c"/><text class="ba" x="6" y="18">S</text></g><text x="294" y="389">SVG/EMF</text>
<g transform="translate(267,406)"><use href="#fold" fill="#d68cf2"/><rect y="10" width="12" height="10" rx="2" fill="#8c2fc0"/><text class="ba" x="6" y="18">H</text></g><text x="294" y="421">Html</text>
<g transform="translate(267,438)"><use href="#fold" fill="#6ba8f5"/><rect y="10" width="12" height="10" rx="2" fill="#2272e0"/><text class="ba" x="6" y="18">V</text></g><text x="294" y="453">Visio</text>
<g transform="translate(267,470)"><use href="#fold" fill="#8e7ff0"/><rect y="10" width="12" height="10" rx="2" fill="#4b35c8"/><text class="ba" x="6" y="18" style="font-size:6px">PS</text></g><text x="294" y="485">PS/EPS</text>
</g>
</svg>
